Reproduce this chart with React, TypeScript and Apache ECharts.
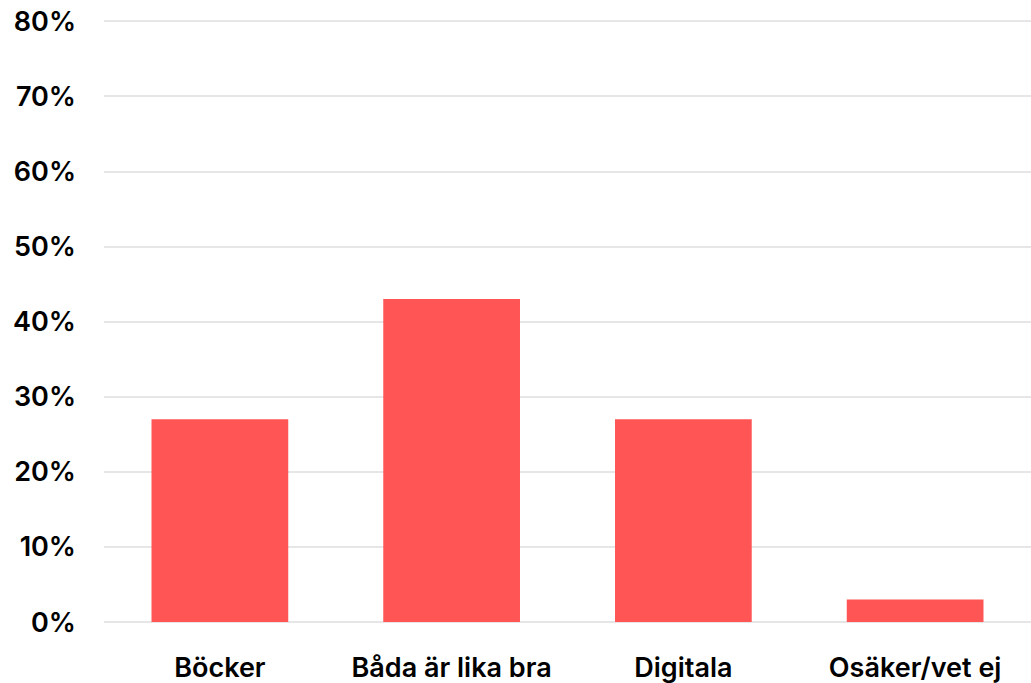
import React, { useEffect, useRef } from "react";
import * as echarts from "echarts";

const categories = ["Böcker", "Båda är lika bra", "Digitala", "Osäker/vet ej"];
const values = [27, 43, 27, 3];
const yTicks = [0, 10, 20, 30, 40, 50, 60, 70, 80];

export default function App() {
  const ref = useRef<HTMLDivElement>(null);
  useEffect(() => {
    if (!ref.current) return;
    const chart = echarts.init(ref.current, null, { renderer: "svg" });
    chart.setOption({
      animation: false,
      grid: { left: 104, width: 931, top: 21, bottom: 61, containLabel: false },
      xAxis: {
        type: "category",
        data: categories,
        axisLine: { show: false },
        axisTick: { show: false },
        axisLabel: {
          interval: 0,
          color: "#000",
          fontFamily: "Inter",
          fontSize: 27,
          fontWeight: 600,
          margin: 32,
        },
      },
      yAxis: {
        type: "value",
        min: yTicks[0],
        max: yTicks[yTicks.length - 1],
        interval: 10,
        axisLine: { show: false },
        axisTick: { show: false },
        splitLine: { lineStyle: { color: "#e6e6e6", width: 2 } },
        axisLabel: {
          color: "#000",
          fontFamily: "Inter",
          fontSize: 27,
          fontWeight: 600,
          margin: 28,
          formatter: (v: number) => `${v}%`,
        },
      },
      series: [
        {
          type: "bar",
          data: values,
          barWidth: "59%",
          itemStyle: { color: "#ff5555" },
        },
      ],
    });
    return () => chart.dispose();
  }, []);
  return <div ref={ref} style={{ width: 1031, height: 683, position: "absolute", left: 0, top: 0 }} />;
}
